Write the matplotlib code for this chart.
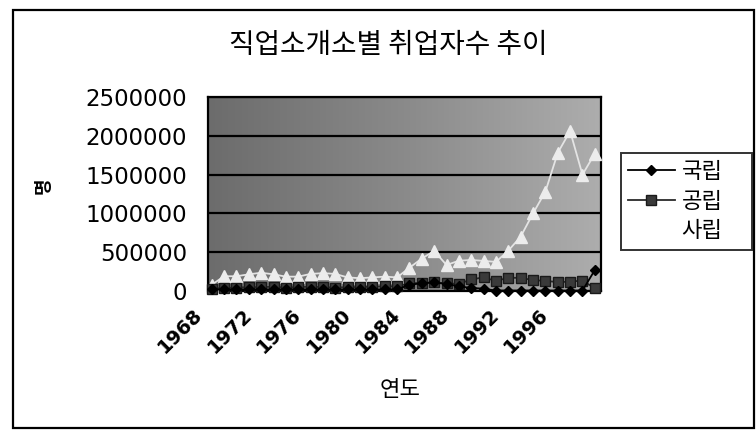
import numpy as np
import matplotlib
matplotlib.use("Agg")
import matplotlib.pyplot as plt
from matplotlib.colors import LinearSegmentedColormap
from matplotlib.patches import Rectangle
from matplotlib.transforms import ScaledTranslation

# ---------------- data ----------------
years = list(range(1968, 2000))
tick_years = [1968, 1972, 1976, 1980, 1984, 1988, 1992, 1996]
y_ticks = [0, 500000, 1000000, 1500000, 2000000, 2500000]

national = [20000, 20000, 20000, 20000, 20000, 20000, 20000, 20000,
            20000, 20000, 20000, 20000, 20000, 20000, 20000, 20000,
            80000, 100000, 110000, 90000, 60000, 40000, 30000, 5000,
            5000, 5000, 5000, 5000, 5000, 5000, 5000, 270000]
public = [30000, 40000, 45000, 50000, 50000, 55000, 45000, 50000,
          55000, 50000, 45000, 50000, 50000, 55000, 60000, 60000,
          100000, 105000, 110000, 100000, 90000, 150000, 175000, 130000,
          170000, 170000, 140000, 130000, 115000, 120000, 135000, 35000]
private = [80000, 190000, 190000, 215000, 235000, 215000, 185000, 185000,
           220000, 230000, 220000, 175000, 165000, 175000, 185000, 175000,
           300000, 418000, 516000, 335000, 390000, 400000, 388000, 375000,
           520000, 700000, 1000000, 1280000, 1780000, 2060000, 1500000, 1770000]

series_names = ["국립", "공립", "사립"]

plt.rcParams['font.family'] = ['DejaVu Sans']
KR = ['Noto Sans CJK KR', 'DejaVu Sans']

W, H = 756, 438
fig = plt.figure(figsize=(W / 100, H / 100), dpi=100)
fig.patch.set_facecolor('white')

# outer chart border
fig.patches.append(Rectangle((13 / W, 1 - 428 / H), (754 - 13) / W, (428 - 10) / H,
                             transform=fig.transFigure, fill=False,
                             edgecolor='black', lw=1.6))

left, right, top, bottom = 208, 601, 97, 291
ax = fig.add_axes([left / W, 1 - bottom / H, (right - left) / W, (bottom - top) / H])

x = np.arange(len(years))
xmin, xmax = -0.3, len(years) - 0.5
ax.set_xlim(xmin, xmax)
ax.set_ylim(y_ticks[0], y_ticks[-1])

# gradient background of plot area
cmap = LinearSegmentedColormap.from_list('bg', ['#6c6c6c', '#8a8a8a', '#adadad'])
ax.imshow(np.linspace(0, 1, 256).reshape(1, -1), cmap=cmap, aspect='auto',
          extent=[xmin, xmax, y_ticks[0], y_ticks[-1]], zorder=0)

ax.set_yticks(y_ticks)
ax.set_yticklabels([str(v) for v in y_ticks], fontsize=16.5)
ax.yaxis.grid(True, color='black', lw=1.6)
ax.tick_params(axis='y', length=0, pad=15)

tick_pos = [years.index(t) for t in tick_years]
ax.set_xticks(tick_pos)
ax.set_xticklabels([str(t) for t in tick_years], fontsize=14, fontweight='bold',
                   rotation=45, ha='right', va='top', rotation_mode='anchor')
ax.tick_params(axis='x', length=0, pad=0)
for lab in ax.get_xticklabels():
    lab.set_transform(lab.get_transform() + ScaledTranslation(-0.19, -0.14, fig.dpi_scale_trans))

for s in ax.spines.values():
    s.set_color('black')
    s.set_linewidth(1.6)

l1, = ax.plot(x, national, color='black', lw=1.3, marker='D', ms=5.5,
              mfc='black', mec='black', zorder=3, clip_on=False)
l2, = ax.plot(x, public, color='#2a2a2a', lw=1.3, marker='s', ms=6.5,
              mfc='#3a3a3a', mec='#1a1a1a', zorder=2.8, clip_on=False)
l3, = ax.plot(x, private, color='#e4e4e4', lw=1.3, marker='^', ms=8,
              mfc='#ececec', mec='#ececec', zorder=2.6, clip_on=False)

leg = fig.legend([l1, l2, l3], series_names, loc='upper left', mode='expand',
                 bbox_to_anchor=(621 / W, 1 - 153 / H, 131 / W, 0), frameon=True,
                 fancybox=False, edgecolor='black', prop={'family': KR, 'size': 16},
                 handlelength=2.1, handletextpad=0.3, labelspacing=0.3,
                 borderpad=0.32, borderaxespad=0)
leg.get_frame().set_linewidth(1.4)
# 사립 entry is white on white in the original
h3 = leg.legend_handles[2]
h3.set_color('white')
h3.set_markerfacecolor('white')
h3.set_markeredgecolor('white')

fig.text(388 / W, 1 - 45 / H, "직업소개소별 취업자수 추이", ha='center', va='center',
         fontsize=20, family=KR)
fig.text(400 / W, 1 - 390 / H, "연도", ha='center', va='center', fontsize=16, family=KR)
fig.text(43 / W, 1 - 186 / H, "명", ha='center', va='center', fontsize=13,
         fontweight='bold', rotation=90, family=KR)

fig.savefig('out.png', dpi=100)
